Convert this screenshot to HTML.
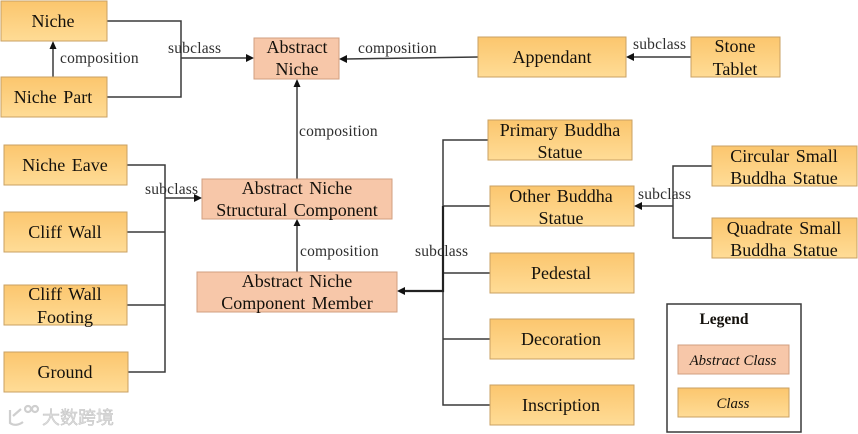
<!DOCTYPE html>
<html><head><meta charset="utf-8"><style>
html,body{margin:0;padding:0;background:#fff}
svg{display:block;filter:blur(.35px)}
text{font-family:"Liberation Serif",serif;fill:#14110c}
.n{font-size:18px;text-anchor:middle;word-spacing:2px}
.l{font-size:15.5px;fill:#2e2e2e;letter-spacing:.2px}
.c{fill:url(#g);stroke:#c9a063;stroke-width:1}
.a{fill:#f7c7a9;stroke:#d29f80;stroke-width:1}
.w{fill:none;stroke:#3a3a3a;stroke-width:1.5}
</style></head><body>
<svg width="858" height="434" viewBox="0 0 858 434" xmlns="http://www.w3.org/2000/svg">
<defs>
<linearGradient id="g" x1="0" y1="0" x2="0" y2="1"><stop offset="0" stop-color="#fbc66e"/><stop offset="1" stop-color="#ffdc96"/></linearGradient>
</defs>
<rect width="858" height="434" fill="#fff"/>

<!-- connectors -->
<path class="w" d="M107 21H181V97H107"/>
<path class="w" d="M181 58H247" stroke-width="2"/>
<path d="M254 58l-8-4v8z" fill="#111"/>
<path class="w" d="M53 77V47"/>
<path d="M53 41l-3.500 8h7z" fill="#111"/>
<path class="w" d="M297 179V86"/>
<path d="M297 79l-3.500 8h7z" fill="#111"/>
<path class="w" d="M297 272V225"/>
<path d="M297 219l-3.500 7h7z" fill="#111"/>
<path class="w" d="M127 165H165V372H128M127 232H165M127 305H165M165 198H196"/>
<path d="M202 198l-8-4v8z" fill="#111"/>
<path class="w" d="M488 140H443V405H490M443 206H490M443 273H490M443 339H490"/>
<path class="w" style="stroke-width:2.200px;stroke:#222" d="M443 206V291H404"/>
<path d="M397 291l8-4v8z" fill="#111"/>
<path class="w" d="M478 57L346 59"/>
<path d="M339 59l8-4v8z" fill="#111"/>
<path class="w" d="M691 57H632"/>
<path d="M626 57l8-4v8z" fill="#111"/>
<path class="w" d="M712 166H673V238H712M673 206H640"/>
<path d="M634 206l8-4v8z" fill="#111"/>

<!-- class boxes -->
<rect class="c" x="1" y="1" width="106" height="40"/>
<rect class="c" x="1" y="77" width="106" height="40"/>
<rect class="c" x="4" y="145" width="123" height="40"/>
<rect class="c" x="4" y="212" width="123" height="40"/>
<rect class="c" x="4" y="285" width="123" height="40"/>
<rect class="c" x="4" y="352" width="124" height="40"/>
<rect class="c" x="478" y="37" width="148" height="40"/>
<rect class="c" x="691" y="37" width="89" height="40"/>
<rect class="c" x="488" y="120" width="144" height="40"/>
<rect class="c" x="490" y="186" width="144" height="40"/>
<rect class="c" x="490" y="253" width="144" height="40"/>
<rect class="c" x="490" y="319" width="144" height="40"/>
<rect class="c" x="490" y="385" width="144" height="40"/>
<rect class="c" x="712" y="146" width="145" height="40"/>
<rect class="c" x="712" y="218" width="145" height="40"/>

<!-- abstract boxes -->
<rect class="a" x="254" y="38" width="85" height="41"/>
<rect class="a" x="202" y="179" width="190" height="40"/>
<rect class="a" x="197" y="272" width="200" height="40"/>

<!-- legend -->
<rect x="667" y="304" width="134" height="128" fill="#fff" stroke="#3a3a3a" stroke-width="1.500"/>
<rect class="a" x="678" y="345" width="111" height="29"/>
<rect class="c" x="678" y="388" width="111" height="29"/>
<text x="724" y="324" style="font-size:15.500px;font-weight:bold;text-anchor:middle">Legend</text>
<text x="733" y="365" style="font-size:14.800px;font-style:italic;text-anchor:middle">Abstract Class</text>
<text x="733" y="408" style="font-size:14.800px;font-style:italic;text-anchor:middle">Class</text>

<!-- node labels -->
<text class="n" x="53" y="27">Niche</text>
<text class="n" x="53" y="103">Niche Part</text>
<text class="n" x="65" y="171">Niche Eave</text>
<text class="n" x="65" y="238">Cliff Wall</text>
<text class="n" x="65" y="300">Cliff Wall</text>
<text class="n" x="65" y="323">Footing</text>
<text class="n" x="65" y="378">Ground</text>
<text class="n" x="297" y="53">Abstract</text>
<text class="n" x="297" y="75">Niche</text>
<text class="n" x="297" y="194">Abstract Niche</text>
<text class="n" x="297" y="216">Structural Component</text>
<text class="n" x="297" y="287">Abstract Niche</text>
<text class="n" x="297" y="309">Component Member</text>
<text class="n" x="552" y="63">Appendant</text>
<text class="n" x="735" y="52">Stone</text>
<text class="n" x="735" y="75">Tablet</text>
<text class="n" x="560" y="136">Primary Buddha</text>
<text class="n" x="560" y="158">Statue</text>
<text class="n" x="561" y="202">Other Buddha</text>
<text class="n" x="561" y="224">Statue</text>
<text class="n" x="561" y="279">Pedestal</text>
<text class="n" x="561" y="345">Decoration</text>
<text class="n" x="561" y="411">Inscription</text>
<text class="n" x="784" y="162">Circular Small</text>
<text class="n" x="784" y="184">Buddha Statue</text>
<text class="n" x="784" y="234">Quadrate Small</text>
<text class="n" x="784" y="256">Buddha Statue</text>

<!-- connector labels -->
<text class="l" x="60" y="63">composition</text>
<text class="l" x="168" y="53">subclass</text>
<text class="l" x="358" y="53">composition</text>
<text class="l" x="633" y="49">subclass</text>
<text class="l" x="299" y="136">composition</text>
<text class="l" x="145" y="194">subclass</text>
<text class="l" x="300" y="256">composition</text>
<text class="l" x="415" y="256">subclass</text>
<text class="l" x="638" y="199">subclass</text>

<!-- watermark -->
<g fill="none" stroke="#cfcfcf" stroke-width="2.200">
<path d="M10 410v13c4 3 9 2 13-1M21 409l-8 7"/>
<circle cx="28" cy="409" r="3"/><circle cx="35" cy="409" r="3"/>
</g>
<text x="42" y="424" style="font-family:'Liberation Sans','Noto Sans CJK SC',sans-serif;font-size:18px;fill:#dcdcdc;stroke:#bdbdbd;stroke-width:.4">大数跨境</text>
</svg>
</body></html>
